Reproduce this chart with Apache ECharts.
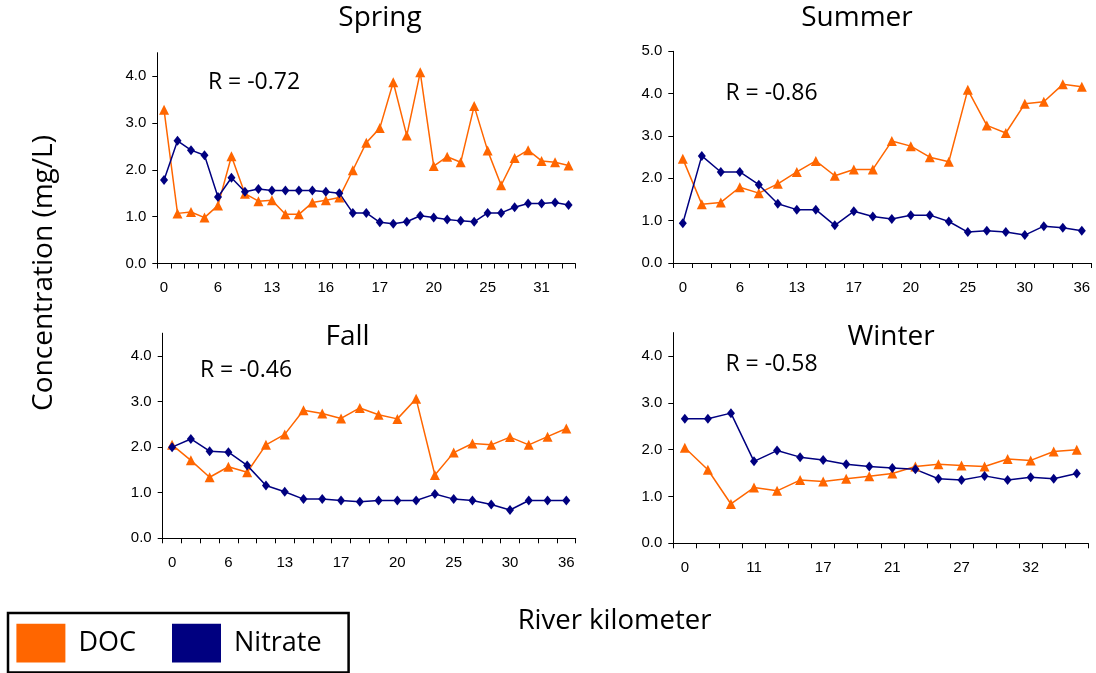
<!DOCTYPE html>
<html>
<head>
<meta charset="utf-8">
<script src="https://cdn.jsdelivr.net/npm/echarts@6/dist/echarts.min.js"></script>
<style>
html,body{margin:0;padding:0;background:#fff;}
#chart{width:1096px;height:673px;}
</style>
</head>
<body>
<div id="chart"></div>
<script>
// ---------- DATA ----------
const seasonNames = ['Spring', 'Summer', 'Fall', 'Winter'];
const rLabels = ['R = -0.72', 'R = -0.86', 'R = -0.46', 'R = -0.58'];
const seriesNames = ['DOC', 'Nitrate'];

// river kilometer categories (only every 3rd/4th one is labelled in the figure)
const springKm = ['0','1.5','3','4.5','6','8','10','11.5','13','14','15','15.5','16','16.2','16.5','16.8','17','17.8','18.5','19.2','20','21','22','23.5','25','26.5','28','29.5','31','32','33'];
const summerKm = ['0','2','4','6','8','10.5','13','14.5','16','17','18','19','20','21.5','23.5','25','26.5','28','30','32','34','36'];
const fallKm   = ['0','2','4','6','8','10.5','13','14.5','16','17','18','19','20','21.5','23.5','25','26.5','28','30','32','34','36'];
const winterKm = ['0','4','8','11','13','15','17','18.5','20','21','23','25','27','28.5','30','32','34','36'];

const springDOC     = [3.28,1.07,1.10,0.98,1.24,2.29,1.49,1.33,1.35,1.05,1.05,1.30,1.35,1.41,1.99,2.58,2.89,3.87,2.73,4.08,2.08,2.28,2.16,3.36,2.41,1.67,2.25,2.42,2.19,2.16,2.09];
const springNitrate = [1.78,2.62,2.42,2.31,1.42,1.83,1.53,1.59,1.56,1.56,1.56,1.56,1.53,1.50,1.08,1.08,0.88,0.85,0.89,1.02,0.98,0.94,0.91,0.89,1.08,1.08,1.20,1.28,1.28,1.30,1.25];

const summerDOC     = [2.46,1.39,1.43,1.79,1.65,1.87,2.15,2.41,2.06,2.21,2.21,2.88,2.76,2.50,2.39,4.09,3.25,3.07,3.76,3.81,4.22,4.16];
const summerNitrate = [0.94,2.53,2.15,2.15,1.85,1.40,1.26,1.26,0.89,1.22,1.10,1.04,1.13,1.13,0.98,0.73,0.76,0.73,0.66,0.87,0.83,0.76];

const fallDOC     = [2.05,1.71,1.34,1.57,1.45,2.05,2.28,2.81,2.74,2.63,2.86,2.71,2.62,3.06,1.39,1.88,2.08,2.05,2.22,2.05,2.23,2.41];
const fallNitrate = [2.00,2.18,1.91,1.89,1.60,1.16,1.02,0.86,0.86,0.83,0.80,0.83,0.83,0.83,0.97,0.86,0.83,0.74,0.62,0.83,0.83,0.83];

const winterDOC     = [2.04,1.57,0.84,1.19,1.12,1.35,1.32,1.38,1.43,1.49,1.64,1.69,1.66,1.64,1.80,1.77,1.96,2.00];
const winterNitrate = [2.66,2.66,2.78,1.75,1.98,1.84,1.78,1.69,1.64,1.61,1.58,1.38,1.35,1.44,1.35,1.41,1.38,1.49];

const yTicksA = [0, 1, 2, 3, 4];
const yTicksB = [0, 1, 2, 3, 4, 5];

// ---------- LAYOUT ----------
const panels = [
  {cats: springKm, doc: springDOC, no3: springNitrate, grid: {left: 157.3, top: 52.7, width: 418, height: 210.8}, max: 4.5, ticks: yTicksA, lblInt: 3,
   title: [380, 18], r: [254, 82]},
  {cats: summerKm, doc: summerDOC, no3: summerNitrate, grid: {left: 673.3, top: 51.3, width: 418, height: 211.7}, max: 5, ticks: yTicksB, lblInt: 2,
   title: [857, 18], r: [771.5, 93]},
  {cats: fallKm, doc: fallDOC, no3: fallNitrate, grid: {left: 162.7, top: 333.2, width: 413, height: 205.1}, max: 4.5, ticks: yTicksA, lblInt: 2,
   title: [347.5, 337], r: [246, 370]},
  {cats: winterKm, doc: winterDOC, no3: winterNitrate, grid: {left: 673.3, top: 332.6, width: 415, height: 210.7}, max: 4.5, ticks: yTicksA, lblInt: 2,
   title: [891, 337], r: [771.5, 364]}
];

const ORANGE = '#FF6600';
const NAVY = '#000080';
const tickFont = 'Liberation Sans, Arial, sans-serif';
const textFont = 'Open Sans, sans-serif';

const grids = [], xAxes = [], yAxes = [], series = [], graphics = [];
panels.forEach((p, i) => {
  grids.push(Object.assign({containLabel: false}, p.grid));
  xAxes.push({
    type: 'category', gridIndex: i, data: p.cats, boundaryGap: true,
    axisLine: {lineStyle: {color: '#000', width: 1}},
    axisTick: {show: true, interval: 0, length: 5, lineStyle: {color: '#000'}},
    axisLabel: {interval: p.lblInt, margin: 17, color: '#000', fontSize: 15, fontFamily: tickFont},
    splitLine: {show: false}
  });
  yAxes.push({
    type: 'value', gridIndex: i, min: 0, max: p.max, interval: 1,
    axisLine: {show: true, lineStyle: {color: '#000', width: 1}},
    axisTick: {show: true, length: 5, lineStyle: {color: '#000'}, customValues: p.ticks},
    axisLabel: {margin: 11, color: '#000', fontSize: 15, fontFamily: tickFont, customValues: p.ticks,
      formatter: v => v.toFixed(1)},
    splitLine: {show: false}
  });
  series.push({
    name: seriesNames[0], type: 'line', xAxisIndex: i, yAxisIndex: i, data: p.doc,
    symbol: 'triangle', symbolSize: 10, showAllSymbol: true,
    lineStyle: {color: ORANGE, width: 1.5}, itemStyle: {color: ORANGE}, emphasis: {disabled: true}
  });
  series.push({
    name: seriesNames[1], type: 'line', xAxisIndex: i, yAxisIndex: i, data: p.no3,
    symbol: 'diamond', symbolSize: [8, 10], showAllSymbol: true,
    lineStyle: {color: NAVY, width: 1.5}, itemStyle: {color: NAVY}, emphasis: {disabled: true}
  });
  graphics.push({type: 'text', x: p.title[0], y: p.title[1],
    style: {text: seasonNames[i], fontSize: 28, fontFamily: textFont, fill: '#000', align: 'center', verticalAlign: 'middle'}});
  graphics.push({type: 'text', x: p.r[0], y: p.r[1],
    style: {text: rLabels[i], fontSize: 23, fontFamily: textFont, fill: '#000', align: 'center', verticalAlign: 'middle'}});
});

graphics.push({type: 'text', x: 44, y: 273, rotation: Math.PI / 2,
  style: {text: 'Concentration (mg/L)', fontSize: 28, fontFamily: textFont, fill: '#000', align: 'center', verticalAlign: 'middle'}});
graphics.push({type: 'text', x: 614.5, y: 621.5,
  style: {text: 'River kilometer', fontSize: 27.5, fontFamily: textFont, fill: '#000', align: 'center', verticalAlign: 'middle'}});

const chart = echarts.init(document.getElementById('chart'), null, {renderer: 'canvas'});
chart.setOption({
  animation: false,
  backgroundColor: '#fff',
  grid: grids,
  xAxis: xAxes,
  yAxis: yAxes,
  series: series,
  legend: {
    data: seriesNames, left: 8, top: 613, orient: 'horizontal',
    icon: 'rect', itemWidth: 49, itemHeight: 38.7, itemGap: 36,
    padding: [10.7, 27, 10, 8.4],
    borderColor: '#000', borderWidth: 2.5, selectedMode: false,
    formatter: name => '{t|' + name + '}',
    textStyle: {color: '#000', rich: {t: {fontSize: 27, fontFamily: textFont, color: '#000', padding: [0, 0, 0, 8]}}}
  },
  graphic: graphics
});
</script>
</body>
</html>
